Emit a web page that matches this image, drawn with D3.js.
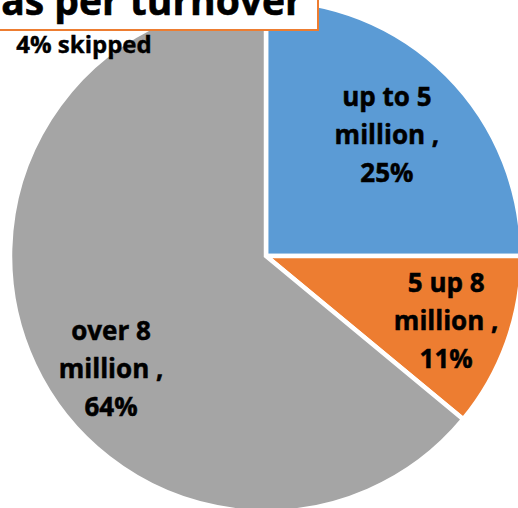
<!DOCTYPE html>
<html>
<head>
<meta charset="utf-8">
<script src="https://cdn.jsdelivr.net/npm/d3@7"></script>
<style>
  html, body { margin: 0; padding: 0; background: #ffffff; overflow: hidden; }
  svg { display: block; }
</style>
</head>
<body>
<svg id="chart" width="518" height="508"></svg>
<script>
// Company breakdown by annual turnover
const categories = ["up to 5 million", "5 up 8 million", "over 8 million"];
const shares = [25, 11, 64];
const sliceColors = ["#5B9BD5", "#ED7D31", "#A5A5A5"];
const titleText = "as per turnover";
const noteText = "4% skipped";

// Layout
const W = 518, H = 508;
const cx = 266, cy = 256, R = 256;
const fontFamily = "'Open Sans', 'Noto Sans', sans-serif";
// label radius as a fraction of R, and an angular nudge (degrees) per slice
const labelRadius = [0.668, 0.748, 0.749];
const labelNudge = [0, 0, -10.9];

const svg = d3.select("#chart");

const pie = d3.pie().sort(null).value(d => d.value);
const arcs = pie(categories.map((c, i) => ({ category: c, value: shares[i], color: sliceColors[i] })));
const arc = d3.arc().innerRadius(0).outerRadius(R);

const g = svg.append("g").attr("transform", `translate(${cx},${cy})`);

g.selectAll("path.slice")
  .data(arcs)
  .join("path")
  .attr("class", "slice")
  .attr("d", arc)
  .attr("fill", d => d.data.color)
  .attr("stroke", "#ffffff")
  .attr("stroke-width", 4.5)
  .attr("stroke-linejoin", "miter");

// Data labels: "<range>" / "million ," / "<share>%"
function labelLines(d) {
  const words = d.data.category.split(" ");
  const unit = words.pop();
  return [words.join(" "), unit + " ,", d.data.value + "%"];
}

const lineStep = 38;
const labels = g.selectAll("text.label")
  .data(arcs)
  .join("text")
  .attr("class", "label")
  .attr("text-anchor", "middle")
  .attr("font-family", fontFamily)
  .attr("font-weight", 700)
  .attr("font-size", 26)
  .attr("fill", "#000000")
  .attr("stroke", "#000000")
  .attr("stroke-width", 0.5)
  .attr("transform", (d, i) => {
    const a = (d.startAngle + d.endAngle) / 2 + labelNudge[i] * Math.PI / 180;
    const r = R * labelRadius[i];
    return `translate(${r * Math.sin(a)},${-r * Math.cos(a)})`;
  });

labels.selectAll("tspan")
  .data(d => labelLines(d))
  .join("tspan")
  .attr("x", 0)
  .attr("y", (t, j) => (j - 1) * lineStep)
  .attr("dy", "0.35em")
  .text(t => t);

// Title box (its upper part runs past the top of the view)
const titleG = svg.append("g");
titleG.append("rect")
  .attr("x", -14)
  .attr("y", -40)
  .attr("width", 332)
  .attr("height", 70)
  .attr("fill", "#ffffff")
  .attr("stroke", "#ED7D31")
  .attr("stroke-width", 2);

titleG.append("text")
  .attr("x", 152)
  .attr("y", 15)
  .attr("text-anchor", "middle")
  .attr("font-family", fontFamily)
  .attr("font-weight", 700)
  .attr("font-size", 39)
  .attr("fill", "#000000")
  .attr("stroke", "#000000")
  .attr("stroke-width", 0.6)
  .text(titleText);

// Note on non-responses
svg.append("text")
  .attr("x", 84)
  .attr("y", 53)
  .attr("text-anchor", "middle")
  .attr("font-family", fontFamily)
  .attr("font-weight", 700)
  .attr("font-size", 24)
  .attr("fill", "#000000")
  .attr("stroke", "#000000")
  .attr("stroke-width", 0.4)
  .text(noteText);
</script>
</body>
</html>
